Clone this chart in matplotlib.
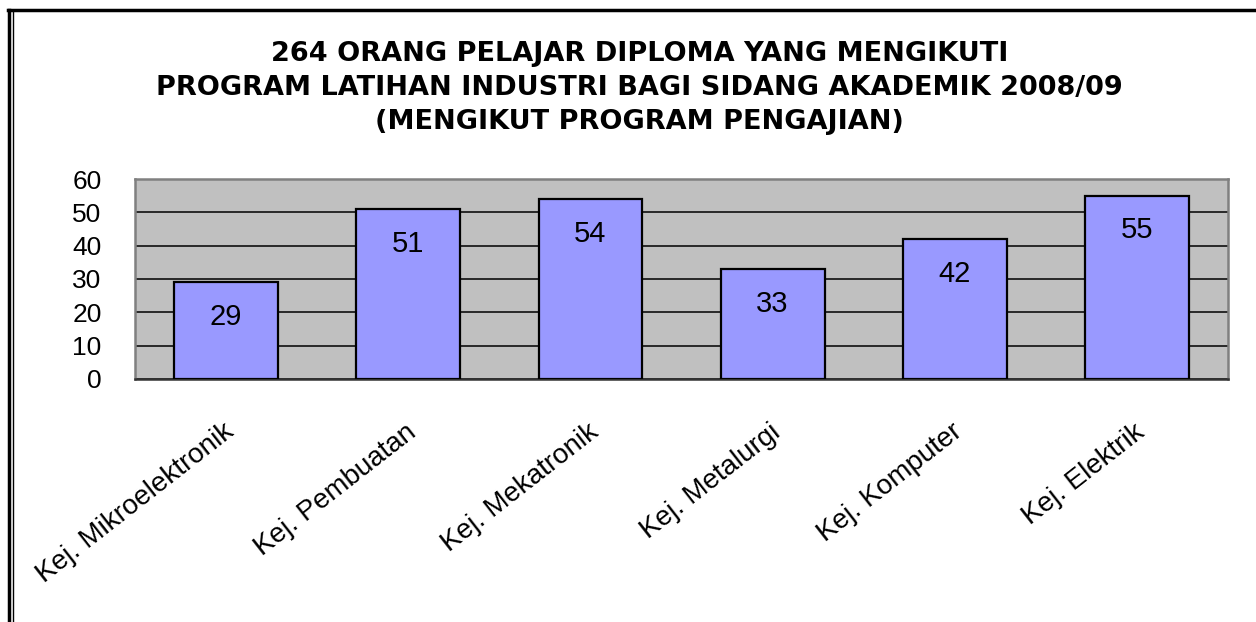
import matplotlib
matplotlib.use("Agg")
import matplotlib.pyplot as plt
from matplotlib.lines import Line2D
from matplotlib.transforms import ScaledTranslation

# Data
jabatan = ["Kej. Mikroelektronik", "Kej. Pembuatan", "Kej. Mekatronik",
           "Kej. Metalurgi", "Kej. Komputer", "Kej. Elektrik"]
bil_pelajar = [29, 51, 54, 33, 42, 55]
yticks = [0, 10, 20, 30, 40, 50, 60]

tajuk = ("264 ORANG PELAJAR DIPLOMA YANG MENGIKUTI\n"
         "PROGRAM LATIHAN INDUSTRI BAGI SIDANG AKADEMIK 2008/09\n"
         "(MENGIKUT PROGRAM PENGAJIAN)")

plt.rcParams['font.family'] = ['Liberation Sans', 'DejaVu Sans']

fig = plt.figure(figsize=(12.56, 6.22), dpi=100)
ax = fig.add_axes([0.1075, 0.3907, 0.8702, 0.3215])

ax.set_facecolor('#C0C0C0')
x = range(len(jabatan))
bars = ax.bar(x, bil_pelajar, width=0.57, color='#9999FF',
              edgecolor='black', linewidth=1.6, zorder=3)

# garis grid
ax.set_axisbelow(True)
ax.yaxis.grid(True, color='black', linewidth=1.1, zorder=1)

ax.set_ylim(0, 60)
ax.set_xlim(-0.5, len(jabatan) - 0.5)
ax.set_yticks(yticks)
ax.set_yticklabels([str(v) for v in yticks], fontsize=19)
ax.tick_params(axis='y', length=0, pad=24)
ax.tick_params(axis='x', length=0)

for s in ax.spines.values():
    s.set_color('#808080')
    s.set_linewidth(1.8)
ax.spines['bottom'].set_color('#333333')

# label data dalam bar
for b, v in zip(bars, bil_pelajar):
    ax.annotate(str(v), (b.get_x() + b.get_width() / 2, v),
                xytext=(0, -25), textcoords='offset points',
                ha='center', va='center', fontsize=21, zorder=4)

ax.set_xticks(list(x))
ax.set_xticklabels(jabatan, rotation=38, ha='right', va='top',
                   rotation_mode='anchor', fontsize=20)
geser = ScaledTranslation(-0.03, -0.35, fig.dpi_scale_trans)
for lbl in ax.get_xticklabels():
    lbl.set_transform(lbl.get_transform() + geser)

fig.text(0.509, 0.858, tajuk, ha='center', va='center', fontsize=19.5,
         fontweight='bold', linespacing=1.4, family='DejaVu Sans')

# bingkai
fig.add_artist(Line2D([8 / 1256, 1], [1 - 9.5 / 622, 1 - 9.5 / 622],
                      transform=fig.transFigure, color='black', linewidth=2.5))
fig.add_artist(Line2D([9 / 1256, 9 / 1256], [0, 1 - 9.5 / 622],
                      transform=fig.transFigure, color='black', linewidth=2.5))
fig.add_artist(Line2D([12.5 / 1256, 12.5 / 1256], [0, 1 - 12 / 622],
                      transform=fig.transFigure, color='black', linewidth=1.0))

fig.savefig('out.png', dpi=100)
